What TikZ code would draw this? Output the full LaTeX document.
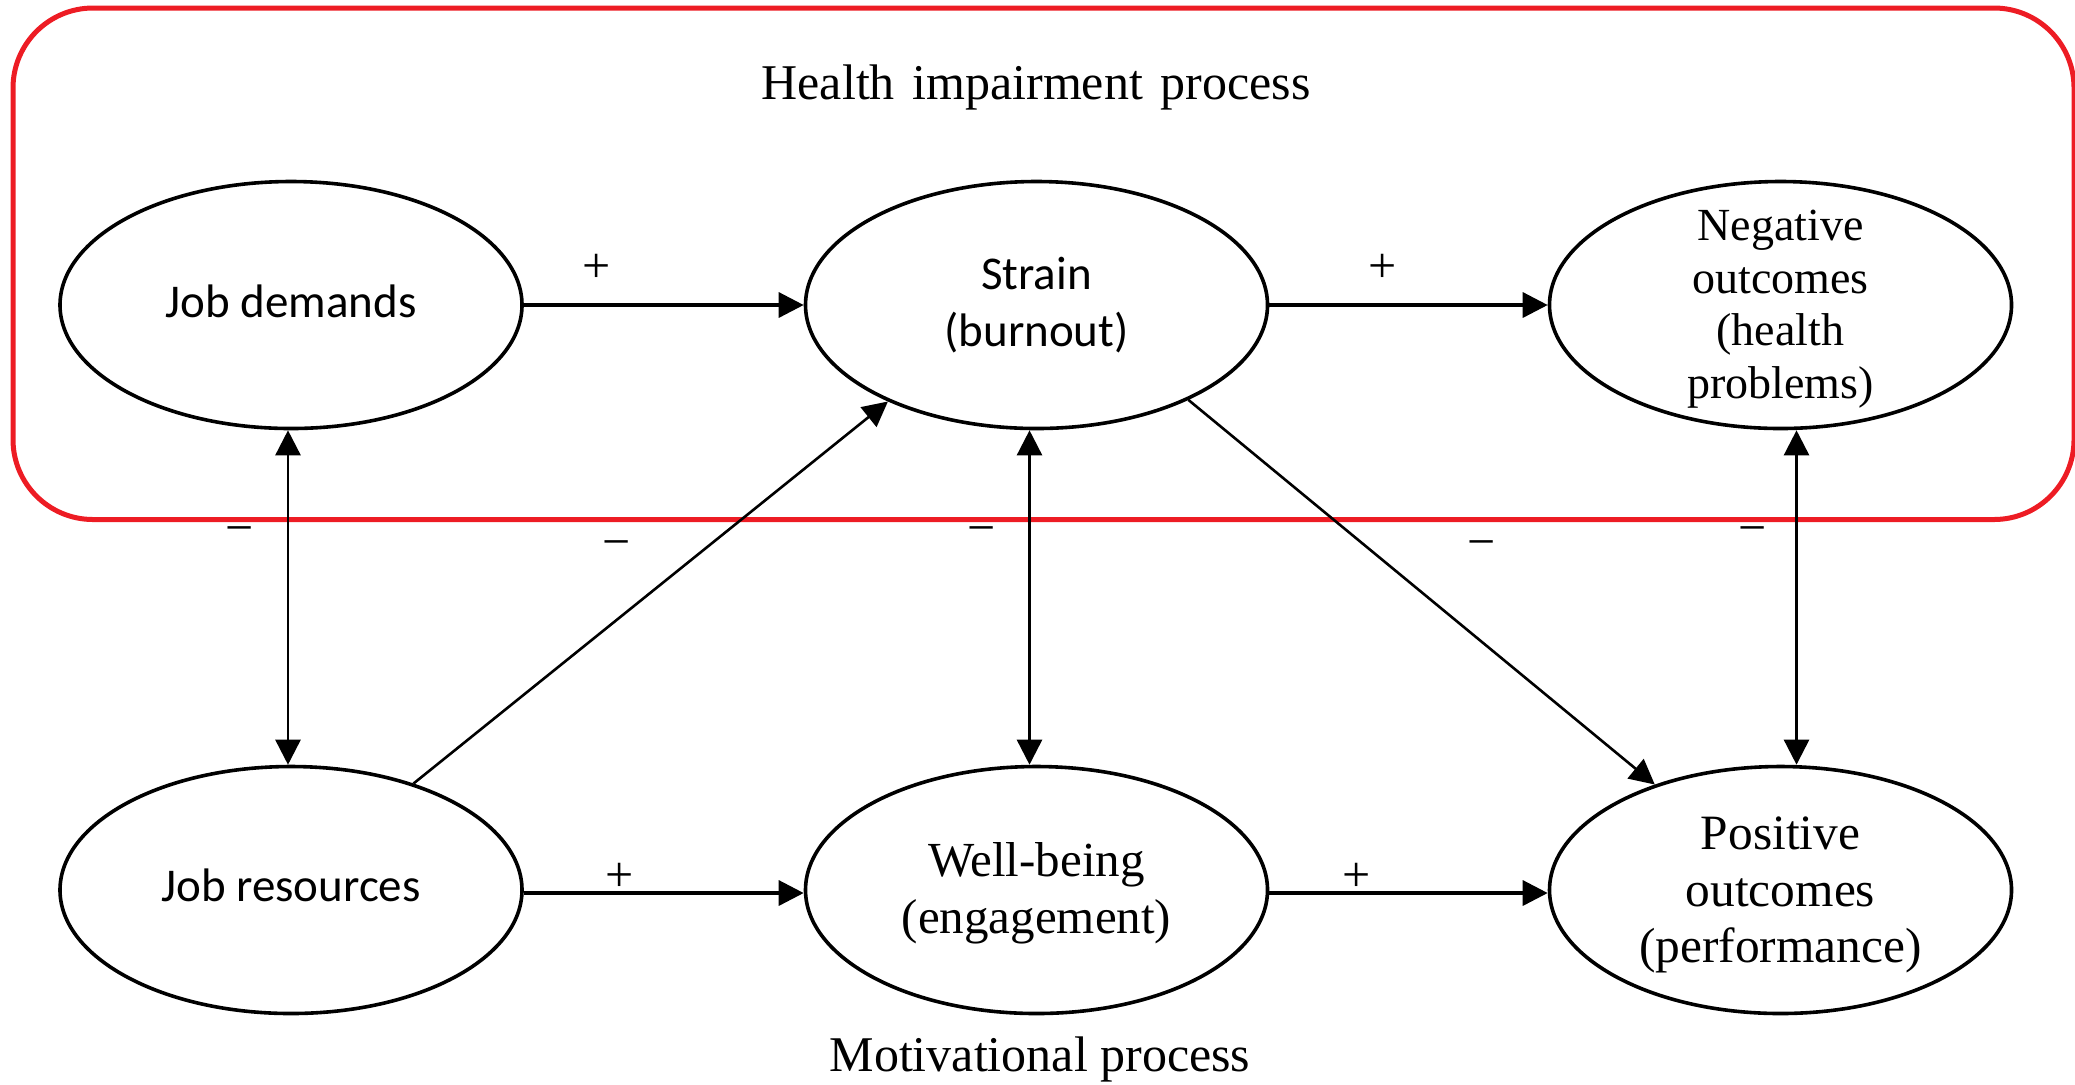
\documentclass[tikz,border=0pt]{standalone}
\usepackage{fontspec}
\setmainfont{Liberation Serif}
\newfontfamily\carlfont{Carlito}
\usetikzlibrary{shapes.geometric,arrows.meta}
\definecolor{boxred}{RGB}{237,28,36}
\begin{document}
\begin{tikzpicture}[x=0.5pt,y=-0.5pt,
  oval/.style={ellipse,draw,line width=1.8pt,inner sep=0pt,
    minimum width=231pt,minimum height=123.5pt,align=center},
  ovaltext/.style={inner sep=0pt,align=center},
  sansnode/.style={font=\carlfont\fontsize{23.5}{28.5}\selectfont},
  tip/.tip={Triangle[length=12.5pt,width=12.5pt]},
  harrow/.style={line width=1.7pt,-tip},
  darrow/.style={line width=1.3pt,-tip},
  varrow/.style={line width=1.3pt,tip-tip},
  sign/.style={inner sep=0pt,font=\fontsize{25}{30}\selectfont},
  title/.style={anchor=base,inner sep=0pt,font=\fontsize{25}{30}\selectfont}
]
\useasboundingbox (0,0) rectangle (2075,1084);

% health impairment frame
\draw[boxred,line width=2.5pt,rounded corners=40pt] (13,8) rectangle (2074,519.5);

% titles
\node[title] (t1) at (1036,99) {Health\hspace{2.5pt} impairment\hspace{2.5pt} process};
\node[title] (t2) at (1040,1071) {Motivational process};

% nodes
\node[oval,sansnode,text height=16pt,text depth=3.5pt] (JD) at (291,305) {Job demands};
\node[oval,sansnode] (S) at (1036.5,305) {Strain\\(burnout)};
\node[oval] (N) at (1780.5,305) {};
\node[ovaltext,font=\fontsize{23}{26.3}\selectfont] (Nt) at (1780.5,309) {Negative\\outcomes\\(health\\problems)};
\node[oval,sansnode,text height=16pt,text depth=5pt] (JR) at (291,890) {Job resources};
\node[oval] (W) at (1036.5,890) {};
\node[ovaltext,font=\fontsize{24.5}{28.5}\selectfont] (Wt) at (1036.5,893) {Well-being\\(engagement)};
\node[oval] (P) at (1780.5,890) {};
\node[ovaltext,font=\fontsize{24.7}{28.4}\selectfont] (Pt) at (1780.5,895) {Positive\\outcomes\\(performance)};

% horizontal arrows
\draw[harrow] (JD.east) -- (S.west);
\draw[harrow] (S.east) -- (N.west);
\draw[harrow] ([yshift=-1.5pt]JR.east) -- ([yshift=-1.5pt]W.west);
\draw[harrow] ([yshift=-1.5pt]W.east) -- ([yshift=-1.5pt]P.west);

% vertical double arrows
\draw[varrow] ([xshift=-1.5pt]JD.south) -- ([xshift=-1.5pt]JR.north);
\draw[varrow] ([xshift=-3.5pt]S.south) -- ([xshift=-3.5pt]W.north);
\draw[varrow] ([xshift=8pt]N.south) -- ([xshift=8pt]P.north);

% diagonal arrows
\draw[darrow] (JR.41.5) -- (S.213.7);
\draw[darrow] (S.-32.4) -- (P.140.5);

% signs
\node[sign] (s1) at (597,268) {+};
\node[sign] (s2) at (1383,268) {+};
\node[sign] (s3) at (620,877) {+};
\node[sign] (s4) at (1357,877) {+};
\node[sign] (m1) at (240,536) {−};
\node[sign] (m2) at (617,550) {−};
\node[sign] (m3) at (982,536) {−};
\node[sign] (m4) at (1482,550) {−};
\node[sign] (m5) at (1753,536) {−};
\end{tikzpicture}
\end{document}
